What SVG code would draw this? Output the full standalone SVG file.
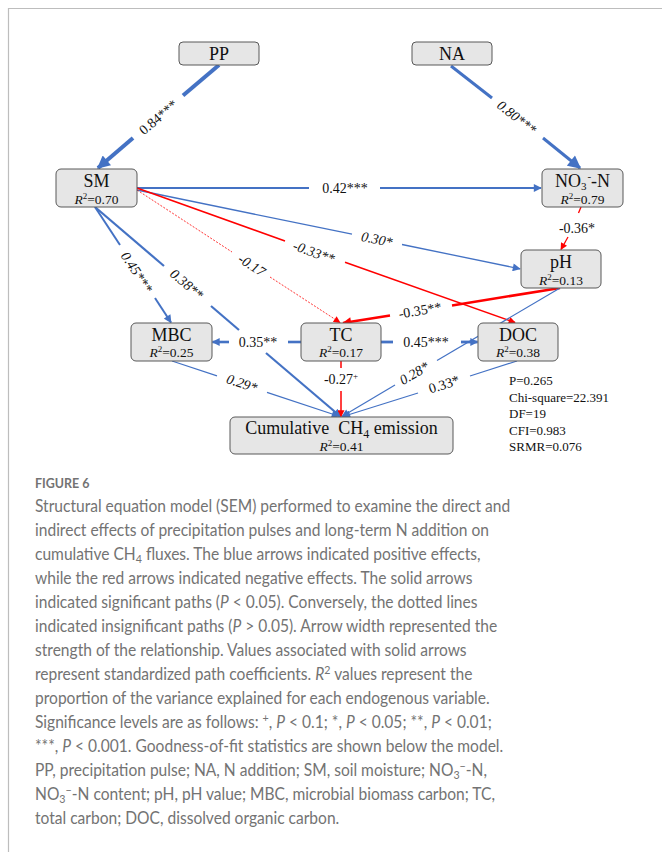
<svg xmlns="http://www.w3.org/2000/svg" width="662" height="852" viewBox="0 0 662 852">
<style>
.box{fill:#e6e6e6;stroke:#595959;stroke-width:1}
.nm{font-family:"Liberation Serif","Times New Roman",serif;font-size:18px;fill:#111;text-anchor:middle}
.r2{font-family:"Liberation Serif","Times New Roman",serif;font-size:13.5px;fill:#111;text-anchor:middle}
.lb{font-family:"Liberation Serif","Times New Roman",serif;font-size:14px;fill:#111;text-anchor:middle}
.it{font-style:italic}
.st{font-family:"Liberation Serif","Times New Roman",serif;font-size:13px;fill:#111}
.b{stroke:#4472C4;fill:none}
.r{stroke:#FF0000;fill:none}
.cap{font-family:Lato,"Open Sans",sans-serif;font-size:17.5px;fill:#737373}
.sb{font-size:12px;baseline-shift:-3px}
.sp{font-size:12px;baseline-shift:6px}
.ns{font-size:12px;baseline-shift:-4px}
.ns3{font-size:11px;baseline-shift:-2.5px}
.np{font-size:11px;baseline-shift:7px}
.rs{font-size:9px;baseline-shift:5px}
</style>
<defs>
<marker id="ab" viewBox="0 0 10 10" refX="9" refY="5" markerWidth="9" markerHeight="8" orient="auto" markerUnits="userSpaceOnUse"><path d="M0,0 L10,5 L0,10 z" fill="#4472C4"/></marker>
<marker id="abL" viewBox="0 0 10 10" refX="9" refY="5" markerWidth="14" markerHeight="13" orient="auto" markerUnits="userSpaceOnUse"><path d="M0,0 L10,5 L0,10 z" fill="#4472C4"/></marker>
<marker id="ar" viewBox="0 0 10 10" refX="9" refY="5" markerWidth="8" markerHeight="7" orient="auto" markerUnits="userSpaceOnUse"><path d="M0,0 L10,5 L0,10 z" fill="#FF0000"/></marker>
<marker id="arL" viewBox="0 0 10 10" refX="9" refY="5" markerWidth="11" markerHeight="9" orient="auto" markerUnits="userSpaceOnUse"><path d="M0,0 L10,5 L0,10 z" fill="#FF0000"/></marker>
</defs>
<rect width="662" height="852" fill="#fff"/>
<path d="M8.5,852 V8.5 H662" fill="none" stroke="#bdbdbd" stroke-width="1.2"/>

<g id="connectors">
  <line class="b" x1="219" y1="65" x2="183" y2="95.5" stroke-width="4"/>
  <line class="b" x1="133" y1="138" x2="98" y2="168" stroke-width="4" marker-end="url(#abL)"/>
  <text class="lb" transform="translate(158,117) rotate(-40.4)" y="5">0.84***</text>
  <line class="b" x1="451" y1="66" x2="492" y2="98" stroke-width="3"/>
  <line class="b" x1="543" y1="138" x2="580" y2="168" stroke-width="3" marker-end="url(#abL)"/>
  <text class="lb it" transform="translate(517,117) rotate(38)" y="5">0.80***</text>
  <line class="b" x1="137" y1="188" x2="309" y2="188" stroke-width="2"/>
  <line class="b" x1="380" y1="188" x2="541" y2="188" stroke-width="2" marker-end="url(#ab)"/>
  <text class="lb" x="345" y="193">0.42***</text>
  <line class="r" x1="581" y1="207" x2="578.5" y2="213" stroke-width="1.3"/>
  <line class="r" x1="568" y1="237" x2="561" y2="249.5" stroke-width="1.3" marker-end="url(#ar)"/>
  <text class="lb" x="577" y="233">-0.36*</text>
  <line class="b" x1="137" y1="190" x2="352" y2="234.2" stroke-width="1.3"/>
  <line class="b" x1="402" y1="244.5" x2="520" y2="268.8" stroke-width="1.3" marker-end="url(#ab)"/>
  <text class="lb it" transform="translate(377,239) rotate(11.6)" y="5">0.30*</text>
  <line class="r" x1="137" y1="188" x2="285" y2="240.9" stroke-width="1.6"/>
  <line class="r" x1="345" y1="262.3" x2="515" y2="322.5" stroke-width="1.6" marker-end="url(#ar)"/>
  <text class="lb it" transform="translate(314,252) rotate(19.7)" y="5">-0.33**</text>
  <line class="r" x1="137" y1="190" x2="232" y2="252" stroke-width="0.8" stroke-dasharray="2,1.5"/>
  <line class="r" x1="270" y1="277" x2="340" y2="322.5" stroke-width="0.8" stroke-dasharray="2,1.5" marker-end="url(#ar)"/>
  <text class="lb it" transform="translate(252,265) rotate(33)" y="5">-0.17</text>
  <line class="b" x1="95" y1="207" x2="120" y2="245" stroke-width="2"/>
  <line class="b" x1="155" y1="298" x2="171" y2="322.5" stroke-width="2" marker-end="url(#ab)"/>
  <text class="lb it" transform="translate(137,272) rotate(56.8)" y="5">0.45***</text>
  <line class="b" x1="95" y1="207" x2="164" y2="266" stroke-width="2.2"/>
  <line class="b" x1="211" y1="306" x2="239" y2="330" stroke-width="2.2"/>
  <line class="b" x1="266" y1="353" x2="340.5" y2="416.5" stroke-width="2.2" marker-end="url(#ab)"/>
  <text class="lb it" transform="translate(187,284) rotate(40.5)" y="5">0.38**</text>
  <line class="b" x1="301" y1="342" x2="288" y2="342" stroke-width="2.6"/>
  <line class="b" x1="229" y1="342" x2="212.5" y2="342" stroke-width="2.6" marker-end="url(#ab)"/>
  <text class="lb" x="258" y="347">0.35**</text>
  <line class="b" x1="381" y1="342" x2="393" y2="342" stroke-width="2.8"/>
  <line class="b" x1="461" y1="342" x2="477.5" y2="342" stroke-width="2.8" marker-end="url(#ab)"/>
  <text class="lb" x="426" y="347">0.45***</text>
  <line class="r" x1="560" y1="288" x2="452" y2="305.4" stroke-width="2.5"/>
  <line class="r" x1="390" y1="315.4" x2="343" y2="323" stroke-width="2.5" marker-end="url(#arL)"/>
  <text class="lb" transform="translate(420,310) rotate(-9.2)" y="5">-0.35**</text>
  <line class="b" x1="560" y1="288" x2="437" y2="360.4" stroke-width="1.2"/>
  <line class="b" x1="395" y1="385" x2="342" y2="416.5" stroke-width="1.2" marker-end="url(#ab)"/>
  <text class="lb it" transform="translate(414,373) rotate(-30.5)" y="5">0.28*</text>
  <line class="b" x1="517" y1="361" x2="470" y2="376" stroke-width="1.2"/>
  <line class="b" x1="418" y1="393" x2="343" y2="416.5" stroke-width="1.2" marker-end="url(#ab)"/>
  <text class="lb" transform="translate(444,384) rotate(-18)" y="5">0.33*</text>
  <line class="b" x1="172" y1="361" x2="217" y2="375.9" stroke-width="1.2"/>
  <line class="b" x1="267" y1="392.4" x2="339" y2="416.3" stroke-width="1.2" marker-end="url(#ab)"/>
  <text class="lb it" transform="translate(242,383) rotate(18.2)" y="5">0.29*</text>
  <line class="r" x1="341" y1="361" x2="341" y2="368" stroke-width="1.5"/>
  <line class="r" x1="341" y1="391" x2="341" y2="416.5" stroke-width="1.5" marker-end="url(#ar)"/>
  <text class="lb" x="341" y="384">-0.27<tspan class="rs">+</tspan></text>
</g>

<g id="PP">
  <rect class="box" x="179" y="42" width="80" height="23" rx="4"/>
  <text class="nm" x="219" y="60">PP</text>
</g>
<g id="NA">
  <rect class="box" x="412" y="42" width="80" height="23" rx="4"/>
  <text class="nm" x="452" y="60">NA</text>
</g>
<g id="SM">
  <rect class="box" x="56" y="169" width="81" height="38" rx="5"/>
  <text class="nm" x="96.5" y="187">SM</text>
  <text class="r2" x="96.5" y="203.5"><tspan class="it">R</tspan><tspan class="rs">2</tspan>=0.70</text>
</g>
<g id="NO3N">
  <rect class="box" x="542" y="169" width="81" height="38" rx="5"/>
  <text class="nm" x="582.5" y="186.5">NO<tspan class="ns3">3</tspan><tspan class="np" dx="1">-</tspan>-N</text>
  <text class="r2" x="582.5" y="204"><tspan class="it">R</tspan><tspan class="rs">2</tspan>=0.79</text>
</g>
<g id="pH">
  <rect class="box" x="521" y="250" width="80" height="38" rx="5"/>
  <text class="nm" x="561" y="268">pH</text>
  <text class="r2" x="561" y="284.5"><tspan class="it">R</tspan><tspan class="rs">2</tspan>=0.13</text>
</g>
<g id="MBC">
  <rect class="box" x="131" y="323" width="81" height="38" rx="5"/>
  <text class="nm" x="171.5" y="340.5">MBC</text>
  <text class="r2" x="171.5" y="357"><tspan class="it">R</tspan><tspan class="rs">2</tspan>=0.25</text>
</g>
<g id="TC">
  <rect class="box" x="301" y="323" width="80" height="38" rx="5"/>
  <text class="nm" x="341" y="340.5">TC</text>
  <text class="r2" x="341" y="357"><tspan class="it">R</tspan><tspan class="rs">2</tspan>=0.17</text>
</g>
<g id="DOC">
  <rect class="box" x="478" y="323" width="80" height="38" rx="5"/>
  <text class="nm" x="518" y="340.5">DOC</text>
  <text class="r2" x="518" y="357"><tspan class="it">R</tspan><tspan class="rs">2</tspan>=0.38</text>
</g>
<g id="CH4">
  <rect class="box" x="230" y="417" width="223" height="37" rx="5"/>
  <text class="nm" x="341.5" y="433.5" xml:space="preserve">Cumulative  CH<tspan class="ns">4</tspan> emission</text>
  <text class="r2" x="341.5" y="450.5"><tspan class="it">R</tspan><tspan class="rs">2</tspan>=0.41</text>
</g>

<g id="fit">
  <text class="st" x="509" y="385">P=0.265</text>
  <text class="st" x="509" y="401.5">Chi-square=22.391</text>
  <text class="st" x="509" y="418">DF=19</text>
  <text class="st" x="509" y="434.5">CFI=0.983</text>
  <text class="st" x="509" y="451">SRMR=0.076</text>
</g>

<g id="caption" transform="translate(35,0) scale(0.89,1)">
  <text x="0" y="488" font-family="Lato,'Open Sans',sans-serif" font-size="14px" font-weight="bold" fill="#737373">FIGURE 6</text>
  <text class="cap" x="0" y="512">Structural equation model (SEM) performed to examine the direct and</text>
  <text class="cap" x="0" y="536">indirect effects of precipitation pulses and long-term N addition on</text>
  <text class="cap" x="0" y="560">cumulative CH<tspan class="sb">4</tspan> fluxes. The blue arrows indicated positive effects,</text>
  <text class="cap" x="0" y="584">while the red arrows indicated negative effects. The solid arrows</text>
  <text class="cap" x="0" y="608">indicated significant paths (<tspan class="it">P</tspan> &lt; 0.05). Conversely, the dotted lines</text>
  <text class="cap" x="0" y="632">indicated insignificant paths (<tspan class="it">P</tspan> &gt; 0.05). Arrow width represented the</text>
  <text class="cap" x="0" y="656">strength of the relationship. Values associated with solid arrows</text>
  <text class="cap" x="0" y="680">represent standardized path coefficients. <tspan class="it">R</tspan><tspan class="sp">2</tspan> values represent the</text>
  <text class="cap" x="0" y="704">proportion of the variance explained for each endogenous variable.</text>
  <text class="cap" x="0" y="728">Significance levels are as follows: <tspan class="sp">+</tspan>, <tspan class="it">P</tspan> &lt; 0.1; *, <tspan class="it">P</tspan> &lt; 0.05; **, <tspan class="it">P</tspan> &lt; 0.01;</text>
  <text class="cap" x="0" y="752">***, <tspan class="it">P</tspan> &lt; 0.001. Goodness-of-fit statistics are shown below the model.</text>
  <text class="cap" x="0" y="776">PP, precipitation pulse; NA, N addition; SM, soil moisture; NO<tspan class="sb">3</tspan><tspan class="sp">−</tspan>-N,</text>
  <text class="cap" x="0" y="800">NO<tspan class="sb">3</tspan><tspan class="sp">−</tspan>-N content; pH, pH value; MBC, microbial biomass carbon; TC,</text>
  <text class="cap" x="0" y="824">total carbon; DOC, dissolved organic carbon.</text>
</g>
</svg>
